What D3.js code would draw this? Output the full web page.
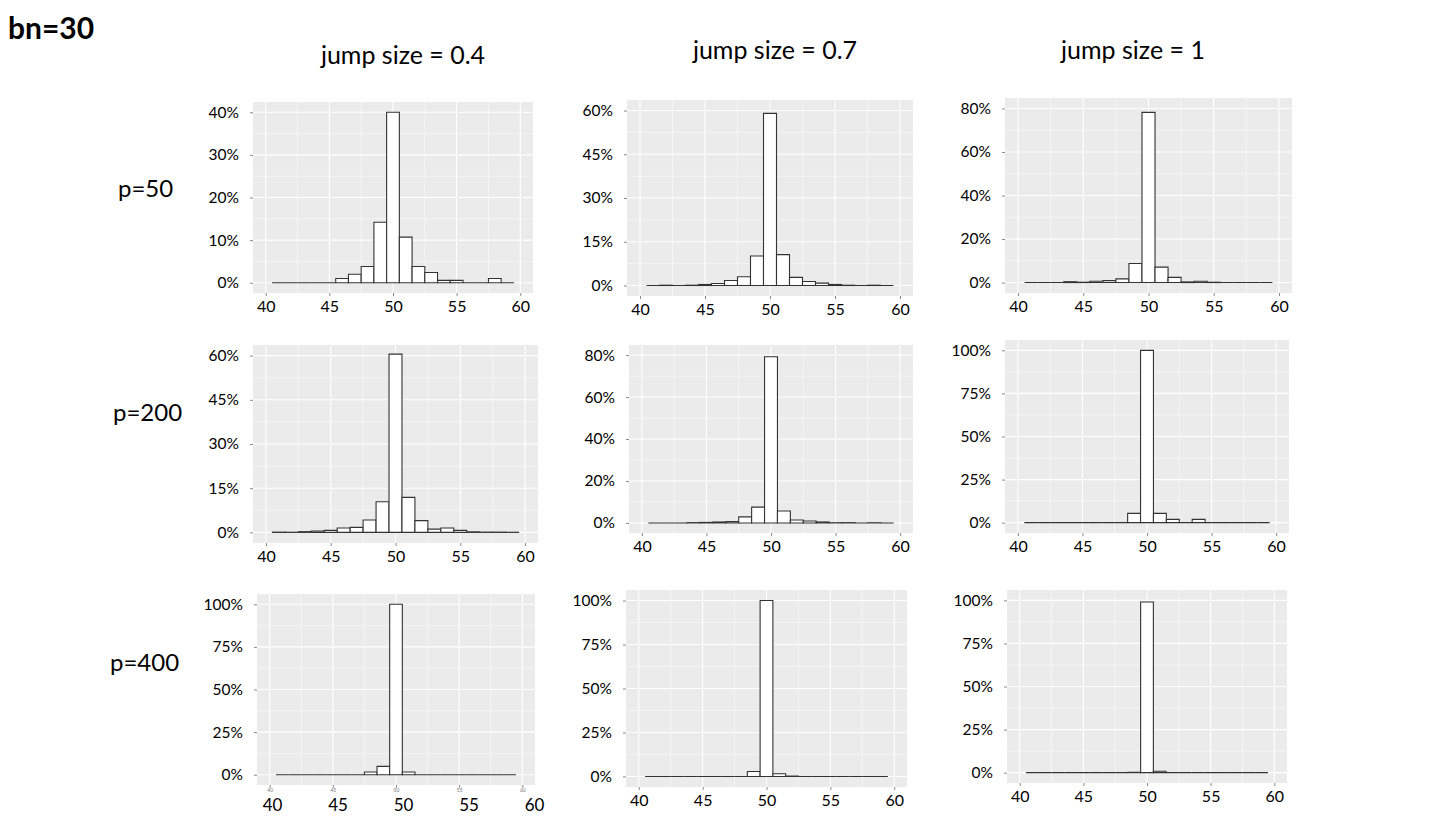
<!DOCTYPE html>
<html lang="en">
<head>
<meta charset="UTF-8">
<title>bn=30 histograms</title>
<script src="https://cdn.jsdelivr.net/npm/d3@7"></script>
<style>
body { margin: 0; background: #fff; font-family: Lato, "Open Sans", sans-serif; }
.panel-bg { fill: #ebebeb; }
.grid-major { stroke: #fff; stroke-width: 1.1px; }
.grid-minor { stroke: #fff; stroke-width: 0.5px; }
.bar { fill: #fff; stroke: #333; stroke-width: 1.1px; }
.axis text { font-family: Lato, sans-serif; font-size: 15.5px; fill: #000; }
.axis line { stroke: #888; }
.axis path { display: none; }
.title { font-family: Lato, sans-serif; fill: #000; }
</style>
</head>
<body>
<script>

// bin centres (width 1)
var bins = [41, 42, 43, 44, 45, 46, 47, 48, 49, 50, 51, 52, 53, 54, 55, 56, 57, 58, 59];
var xTicks = [40, 45, 50, 55, 60];

var rowLabels = ["p=50", "p=200", "p=400"];
var colLabels = ["jump size = 0.4", "jump size = 0.7", "jump size = 1"];

// percentage of samples in each bin
var p50_j04  = [0, 0, 0, 0, 0, 1.0, 2.0, 3.8, 14.2, 40.0, 10.7, 3.8, 2.4, 0.55, 0.55, 0, 0, 1.0, 0];
var p50_j07  = [0, 0.1, 0, 0.1, 0.35, 0.7, 1.7, 3.0, 10.1, 59.0, 10.6, 2.8, 1.35, 0.8, 0.35, 0.1, 0, 0.1, 0];
var p50_j1   = [0, 0, 0, 0.4, 0.15, 0.6, 0.9, 1.7, 8.75, 78.2, 7.1, 2.4, 0.3, 0.6, 0.15, 0, 0, 0, 0];
var p200_j04 = [0.1, 0.05, 0.25, 0.45, 0.7, 1.5, 1.7, 4.2, 10.4, 60.5, 11.9, 4.0, 1.1, 1.5, 0.7, 0.2, 0.1, 0.1, 0.05];
var p200_j07 = [0, 0, 0, 0.15, 0.25, 0.45, 0.6, 2.9, 7.55, 79.2, 5.7, 1.4, 0.9, 0.45, 0.1, 0.15, 0, 0.1, 0];
var p200_j1  = [0, 0, 0, 0, 0, 0, 0, 0, 5.4, 100, 5.4, 1.9, 0, 1.9, 0, 0, 0, 0, 0];
var p400_j04 = [0, 0, 0, 0, 0, 0, 0, 1.6, 4.9, 100, 1.6, 0, 0, 0, 0, 0, 0, 0, 0];
var p400_j07 = [0, 0, 0, 0, 0, 0, 0, 0, 2.8, 100, 1.5, 0.2, 0, 0, 0, 0, 0, 0, 0];
var p400_j1  = [0, 0, 0, 0, 0, 0, 0, 0, 0.2, 99, 0.8, 0, 0, 0, 0, 0, 0, 0, 0];

// y tick labels (percent) of each panel
var ticks10  = [0, 10, 20, 30, 40];
var ticks15  = [0, 15, 30, 45, 60];
var ticks20  = [0, 20, 40, 60, 80];
var ticks25  = [0, 25, 50, 75, 100];

var panels = [
    {row: 0, col: 0, values: p50_j04,  ticks: ticks10},
    {row: 0, col: 1, values: p50_j07,  ticks: ticks15},
    {row: 0, col: 2, values: p50_j1,   ticks: ticks20},
    {row: 1, col: 0, values: p200_j04, ticks: ticks15},
    {row: 1, col: 1, values: p200_j07, ticks: ticks20},
    {row: 1, col: 2, values: p200_j1,  ticks: ticks25},
    {row: 2, col: 0, values: p400_j04, ticks: ticks25},
    {row: 2, col: 1, values: p400_j07, ticks: ticks25},
    {row: 2, col: 2, values: p400_j1,  ticks: ticks25}
];

// panel backgrounds [x, y, w, h], same order as panels
var boxes = [
    [253, 102, 280, 191], [627, 100, 286, 196], [1005, 98, 287, 195],
    [253, 345, 285, 198], [629, 345, 284, 188], [1005, 340, 284, 193],
    [257, 594, 278, 191], [626, 590, 281, 197], [1007, 590, 280, 193]
];

var titleX = [403, 775, 1133], titleY = [64, 59, 59];
var rowX = [118, 113, 110], rowY = [197, 421, 671];

var svg = d3.select("body").append("svg")
    .attr("width", 1439)
    .attr("height", 820);

svg.append("text")
    .attr("class", "title")
    .attr("x", 8)
    .attr("y", 39)
    .style("font-size", "30px")
    .style("font-weight", "bold")
    .text("bn=30");

svg.selectAll(".col-label")
    .data(colLabels)
    .enter().append("text")
    .attr("class", "title col-label")
    .attr("x", function(d, i) { return titleX[i]; })
    .attr("y", function(d, i) { return titleY[i]; })
    .attr("text-anchor", "middle")
    .style("font-size", "25px")
    .text(function(d) { return d; });

svg.selectAll(".row-label")
    .data(rowLabels)
    .enter().append("text")
    .attr("class", "title row-label")
    .attr("x", function(d, i) { return rowX[i]; })
    .attr("y", function(d, i) { return rowY[i]; })
    .style("font-size", "24px")
    .text(function(d) { return d; });

function midpoints(arr) {
    var out = [];
    for (var i = 1; i < arr.length; i++) out.push((arr[i - 1] + arr[i]) / 2);
    return out;
}

panels.forEach(function(p, idx) {
    var b = boxes[idx];
    var left = b[0], top = b[1], w = b[2], h = b[3];
    var yMax = p.ticks[p.ticks.length - 1];
    var pad = 0.06 * yMax;

    var x = d3.scaleLinear().domain([39, 61]).range([left, left + w]);
    var y = d3.scaleLinear().domain([-pad, yMax + pad]).range([top + h, top]);

    var g = svg.append("g");

    g.append("rect")
        .attr("class", "panel-bg")
        .attr("x", left).attr("y", top)
        .attr("width", w).attr("height", h);

    // grid
    g.selectAll(".gy-minor").data(midpoints(p.ticks)).enter().append("line")
        .attr("class", "grid-minor")
        .attr("x1", left).attr("x2", left + w)
        .attr("y1", function(d) { return y(d); }).attr("y2", function(d) { return y(d); });
    g.selectAll(".gx-minor").data(midpoints(xTicks)).enter().append("line")
        .attr("class", "grid-minor")
        .attr("y1", top).attr("y2", top + h)
        .attr("x1", function(d) { return x(d); }).attr("x2", function(d) { return x(d); });
    g.selectAll(".gy-major").data(p.ticks).enter().append("line")
        .attr("class", "grid-major")
        .attr("x1", left).attr("x2", left + w)
        .attr("y1", function(d) { return y(d); }).attr("y2", function(d) { return y(d); });
    g.selectAll(".gx-major").data(xTicks).enter().append("line")
        .attr("class", "grid-major")
        .attr("y1", top).attr("y2", top + h)
        .attr("x1", function(d) { return x(d); }).attr("x2", function(d) { return x(d); });

    // bars as paths so empty bins still show as a line on the baseline
    g.selectAll(".bar")
        .data(bins.map(function(c, i) { return {c: c, v: p.values[i]}; }))
        .enter().append("path")
        .attr("class", "bar")
        .attr("d", function(d) {
            var x0 = x(d.c - 0.5), x1 = x(d.c + 0.5), y0 = y(0), y1 = y(d.v);
            return "M" + x0 + "," + y0 + "V" + y1 + "H" + x1 + "V" + y0 + "Z";
        });

    // axes
    g.append("g")
        .attr("class", "axis")
        .attr("transform", "translate(" + left + ",0)")
        .call(d3.axisLeft(y).tickValues(p.ticks).tickSize(3).tickPadding(11)
            .tickFormat(function(d) { return d + "%"; }));

    var xa = g.append("g")
        .attr("class", "axis")
        .attr("transform", "translate(0," + (top + h) + ")")
        .call(d3.axisBottom(x).tickValues(xTicks).tickSize(3).tickPadding(5));
    xa.selectAll("text").style("font-size", "16px");

    if (idx === 6) {
        // this panel keeps its tiny original labels, with large ones pasted below
        xa.call(d3.axisBottom(x).tickValues(xTicks).tickSize(3).tickPadding(0));
        xa.selectAll("text").style("font-size", "5px").style("fill", "#777");
        var xBig = d3.scaleLinear().domain([40, 60]).range([272, 534]);
        g.append("g")
            .attr("class", "axis")
            .attr("transform", "translate(0," + (top + h) + ")")
            .call(d3.axisBottom(xBig).tickValues(xTicks).tickSize(0).tickPadding(14))
            .selectAll("text").style("font-size", "17px");
    }
});

</script>
</body>
</html>
